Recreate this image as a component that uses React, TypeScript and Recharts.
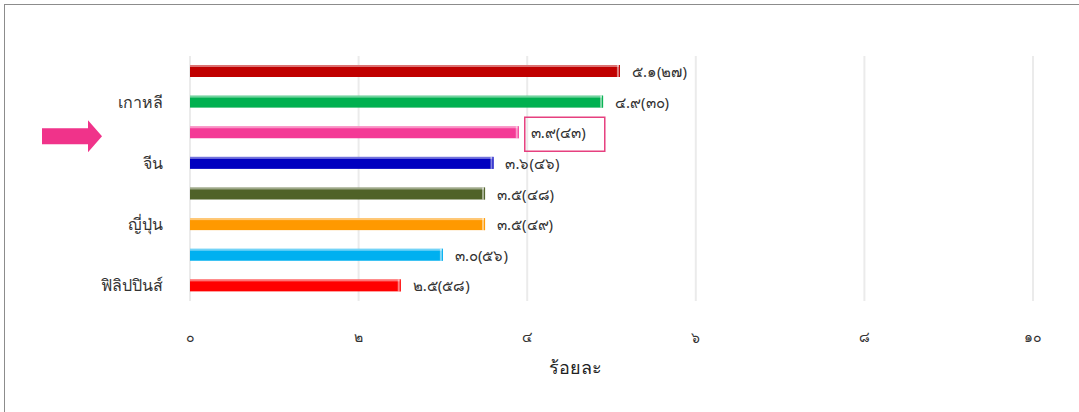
import React from 'react';
import { BarChart, Bar, XAxis, YAxis, CartesianGrid, Cell, LabelList } from 'recharts';

// one row per bar, top to bottom
const rowLabels = ['', 'เกาหลี', '', 'จีน', '', 'ญี่ปุ่น', '', 'ฟิลิปปินส์'];
const percents = [5.1, 4.9, 3.9, 3.6, 3.5, 3.5, 3.0, 2.5];
const ranks = [27, 30, 43, 46, 48, 49, 56, 58];
const barColors = ['#c00000', '#00b050', '#f43a96', '#0000c0', '#4f6228', '#ff9900', '#00b0f0', '#ff0000'];
const xTicks = [0, 2, 4, 6, 8, 10];
const highlightIndex = 2;

const thaiDigits = '๐๑๒๓๔๕๖๗๘๙';
const toThai = (s: string) => s.replace(/[0-9]/g, (d) => thaiDigits[Number(d)]);

const data = percents.map((v, i) => ({
  key: 'r' + i,
  value: v,
  label: toThai(v.toFixed(1) + '(' + ranks[i] + ')'),
}));

const FONT = '"Noto Sans", "DejaVu Sans", sans-serif';

// bar with a lighter top edge and a small cap at the end
const GlossBar = (props: any) => {
  const { x, y, width, height, fill } = props;
  if (!width || width <= 0) return null;
  return (
    <g>
      <rect x={x} y={y} width={width} height={height} fill={fill} />
      <rect x={x} y={y} width={width} height={2} fill="#ffffff" opacity={0.45} />
      <rect x={x + width - 3} y={y} width={3} height={height} fill="#ffffff" opacity={0.5} />
      <rect x={x + width - 1} y={y} width={1} height={height} fill={fill} />
    </g>
  );
};

const ValueLabel = (props: any) => {
  const { x, y, width, height, value, index } = props;
  const endX = x + width;
  const cy = y + height / 2;
  return (
    <g>
      {index === highlightIndex && (
        <>
          <rect x={endX + 6} y={cy - 15} width={80} height={34} fill="none" stroke="#e6407f" strokeWidth={1.5} />
          <path
            d={`M 42 ${cy - 4} L 88 ${cy - 4} L 88 ${cy - 12} L 102 ${cy + 4} L 88 ${cy + 20} L 88 ${cy + 12} L 42 ${cy + 12} Z`}
            fill="#f0338a"
          />
        </>
      )}
      <text x={endX + 12} y={cy + 2} dominantBaseline="middle" fontSize={15} fill="#333" fontFamily={FONT}>
        {value}
      </text>
    </g>
  );
};

export default function App() {
  return (
    <div style={{ position: 'absolute', left: 0, top: 0, width: 1079, height: 412, background: '#fff' }}>
      <div
        style={{
          position: 'absolute', left: 4, top: 4, width: 1075, height: 408,
          borderTop: '1px solid #8c8c8c', borderLeft: '1px solid #8c8c8c',
        }}
      />
      <div style={{ position: 'absolute', left: 0, top: 0 }}>
        <BarChart
          width={1079}
          height={412}
          data={data}
          layout="vertical"
          margin={{ top: 56, right: 46, bottom: 0, left: 0 }}
          barCategoryGap={10}
        >
          <CartesianGrid horizontal={false} stroke="#ebebeb" strokeWidth={2} />
          <XAxis
            type="number"
            domain={[0, 10]}
            ticks={xTicks}
            axisLine={false}
            tickLine={false}
            tickMargin={25}
            height={111}
            tickFormatter={(v: number) => toThai(String(v))}
            tick={{ fontSize: 14, fill: '#333', fontFamily: FONT }}
            label={{
              value: 'ร้อยละ', position: 'insideBottom', offset: 38, dx: -36,
              style: { fontSize: 18, fill: '#222', fontFamily: FONT },
            }}
          />
          <YAxis
            type="category"
            dataKey="key"
            width={190}
            axisLine={false}
            tickLine={false}
            tickMargin={21}
            interval={0}
            tickFormatter={(_v: string, i: number) => rowLabels[i]}
            tick={{ fontSize: 16, fill: '#333', fontFamily: FONT }}
          />
          <Bar dataKey="value" barSize={12} shape={<GlossBar />} isAnimationActive={false}>
            {data.map((d, i) => (
              <Cell key={d.key} fill={barColors[i]} />
            ))}
            <LabelList dataKey="label" content={<ValueLabel />} />
          </Bar>
        </BarChart>
      </div>
    </div>
  );
}
